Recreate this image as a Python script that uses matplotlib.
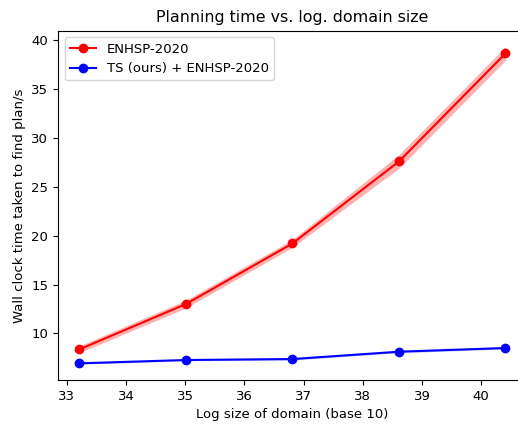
import numpy as np
from matplotlib import pyplot as plt

log_size = [33.21, 35.01, 36.81, 38.61, 40.41]
enhsp_time = [8.36, 13.0, 19.2, 27.6, 38.66]
enhsp_err = [0.35, 0.4, 0.4, 0.7, 0.7]
ts_time = [6.93, 7.27, 7.37, 8.12, 8.5]
ts_err = [0.08, 0.08, 0.1, 0.1, 0.1]

plt.rcParams['font.size'] = 9.5

fig = plt.figure(figsize=(5.18, 4.24), dpi=100)
ax = fig.add_axes([0.112, 0.1038, 0.905, 0.8238])

x = np.array(log_size)
for mean, err, col, name in [(enhsp_time, enhsp_err, 'red', 'ENHSP-2020'),
                             (ts_time, ts_err, 'blue', 'TS (ours) + ENHSP-2020')]:
    mean = np.array(mean)
    err = np.array(err)
    ax.plot(x, mean, 'o-', color=col, label=name)
    ax.fill_between(x, mean - err, mean + err, color=col, alpha=0.3, linewidth=0)

ax.set_title("Planning time vs. log. domain size")
ax.set_xlabel("Log size of domain (base 10)")
ax.set_ylabel("Wall clock time taken to find plan/s")
ax.legend(loc='upper left')

fig.savefig("out.png", dpi=100)
